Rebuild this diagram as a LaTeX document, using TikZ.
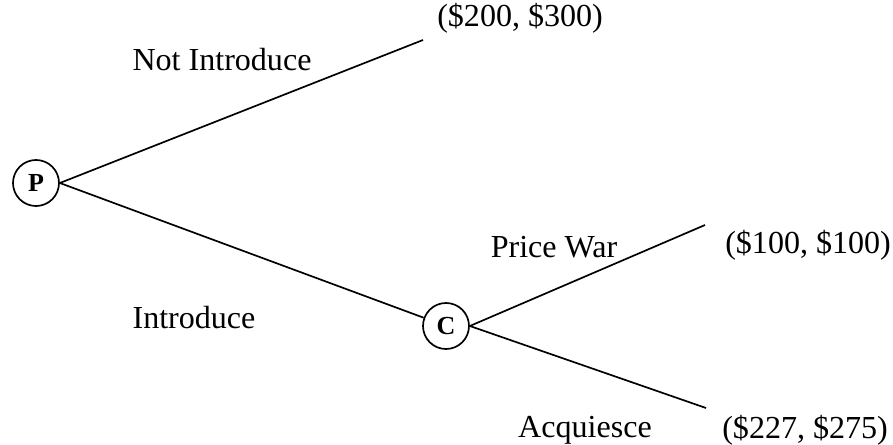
\documentclass[tikz,border=0pt]{standalone}
\usepackage{fontspec}
\setmainfont{Liberation Serif}
\usetikzlibrary{positioning}

\begin{document}
\begin{tikzpicture}[
  x=0.025cm, y=-0.025cm,
  player/.style={draw, circle, line width=1.2pt, minimum size=1.15cm, inner sep=0pt, font=\fontsize{18.5}{20}\selectfont\bfseries},
  move/.style={font=\fontsize{22.8}{26}\selectfont},
  payoff/.style={anchor=west, inner sep=0pt, font=\fontsize{22.8}{26}\selectfont},
  branch/.style={line width=1.2pt}
]
\useasboundingbox (0,0) rectangle (893,445);

% Decision nodes
\node[player] (P) at (36,183) {P};
\node[player] (C) at (446,326) {C};

% Ends of the branches
\coordinate (E1) at (423,40);
\coordinate (E2) at (705,225);
\coordinate (E3) at (706,408);

% Payoffs
\node[payoff] (R1) at (437,18) {(\$200, \$300)};
\node[payoff] (R2) at (725,245) {(\$100, \$100)};
\node[payoff] (R3) at (722,430) {(\$227, \$275)};

% Branches
\draw[branch] (P.east) -- (E1);
\draw[branch] (P.east) -- (C);
\draw[branch] (C.east) -- (E2);
\draw[branch] (C.east) -- (E3);

% Move labels
\node[move] (notintro) at (222,60) {Not Introduce};
\node[move] (intro) at (194,318) {Introduce};
\node[move] (war) at (554,247) {Price War};
\node[move] (acq) at (585,430) {Acquiesce};
\end{tikzpicture}
\end{document}
